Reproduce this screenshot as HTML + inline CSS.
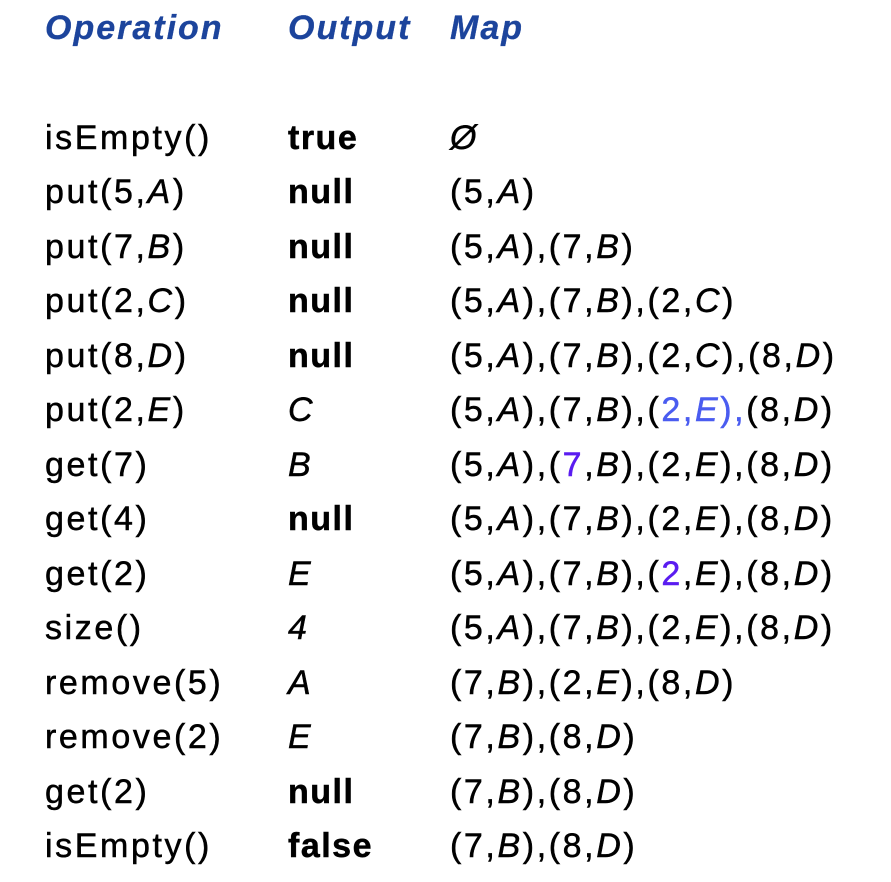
<!DOCTYPE html>
<html><head><meta charset="utf-8"><style>
body{margin:0;width:891px;height:882px;background:#fff;overflow:hidden;position:relative;font-family:"Liberation Sans",sans-serif;}
.r{position:absolute;font-size:34px;line-height:40px;letter-spacing:2.6px;color:#000;white-space:nowrap;-webkit-text-stroke:0.5px currentColor;}
.h{color:#1c449c;font-weight:bold;font-style:italic;letter-spacing:2px;-webkit-text-stroke:0.3px currentColor}
b{font-weight:bold;letter-spacing:1.5px}
i{font-style:italic}
.bl{color:#4a5cf0}.pu{color:#5a1cf0}
</style></head><body>
<div class="r h" style="left:45px;top:8px">Operation</div>
<div class="r h" style="left:288px;top:8px">Output</div>
<div class="r h" style="left:450px;top:8px">Map</div>

<div class="r" style="left:45px;top:118px">isEmpty()</div><div class="r" style="left:288px;top:118px"><b>true</b></div><div class="r" style="left:450px;top:118px"><i>Ø</i></div>
<div class="r" style="left:45px;top:172px">put(5,<i>A</i>)</div><div class="r" style="left:288px;top:172px"><b>null</b></div><div class="r" style="left:450px;top:172px">(5,<i>A</i>)</div>
<div class="r" style="left:45px;top:227px">put(7,<i>B</i>)</div><div class="r" style="left:288px;top:227px"><b>null</b></div><div class="r" style="left:450px;top:227px">(5,<i>A</i>),(7,<i>B</i>)</div>
<div class="r" style="left:45px;top:281px">put(2,<i>C</i>)</div><div class="r" style="left:288px;top:281px"><b>null</b></div><div class="r" style="left:450px;top:281px">(5,<i>A</i>),(7,<i>B</i>),(2,<i>C</i>)</div>
<div class="r" style="left:45px;top:336px">put(8,<i>D</i>)</div><div class="r" style="left:288px;top:336px"><b>null</b></div><div class="r" style="left:450px;top:336px">(5,<i>A</i>),(7,<i>B</i>),(2,<i>C</i>),(8,<i>D</i>)</div>
<div class="r" style="left:45px;top:390px">put(2,<i>E</i>)</div><div class="r" style="left:288px;top:390px"><i>C</i></div><div class="r" style="left:450px;top:390px">(5,<i>A</i>),(7,<i>B</i>),(<span class="bl">2,<i>E</i>),</span>(8,<i>D</i>)</div>
<div class="r" style="left:45px;top:445px">get(7)</div><div class="r" style="left:288px;top:445px"><i>B</i></div><div class="r" style="left:450px;top:445px">(5,<i>A</i>),(<span class="pu">7</span>,<i>B</i>),(2,<i>E</i>),(8,<i>D</i>)</div>
<div class="r" style="left:45px;top:499px">get(4)</div><div class="r" style="left:288px;top:499px"><b>null</b></div><div class="r" style="left:450px;top:499px">(5,<i>A</i>),(7,<i>B</i>),(2,<i>E</i>),(8,<i>D</i>)</div>
<div class="r" style="left:45px;top:554px">get(2)</div><div class="r" style="left:288px;top:554px"><i>E</i></div><div class="r" style="left:450px;top:554px">(5,<i>A</i>),(7,<i>B</i>),(<span class="pu">2</span>,<i>E</i>),(8,<i>D</i>)</div>
<div class="r" style="left:45px;top:608px">size()</div><div class="r" style="left:288px;top:608px"><i>4</i></div><div class="r" style="left:450px;top:608px">(5,<i>A</i>),(7,<i>B</i>),(2,<i>E</i>),(8,<i>D</i>)</div>
<div class="r" style="left:45px;top:663px">remove(5)</div><div class="r" style="left:288px;top:663px"><i>A</i></div><div class="r" style="left:450px;top:663px">(7,<i>B</i>),(2,<i>E</i>),(8,<i>D</i>)</div>
<div class="r" style="left:45px;top:717px">remove(2)</div><div class="r" style="left:288px;top:717px"><i>E</i></div><div class="r" style="left:450px;top:717px">(7,<i>B</i>),(8,<i>D</i>)</div>
<div class="r" style="left:45px;top:772px">get(2)</div><div class="r" style="left:288px;top:772px"><b>null</b></div><div class="r" style="left:450px;top:772px">(7,<i>B</i>),(8,<i>D</i>)</div>
<div class="r" style="left:45px;top:826px">isEmpty()</div><div class="r" style="left:288px;top:826px"><b>false</b></div><div class="r" style="left:450px;top:826px">(7,<i>B</i>),(8,<i>D</i>)</div>
</body></html>
